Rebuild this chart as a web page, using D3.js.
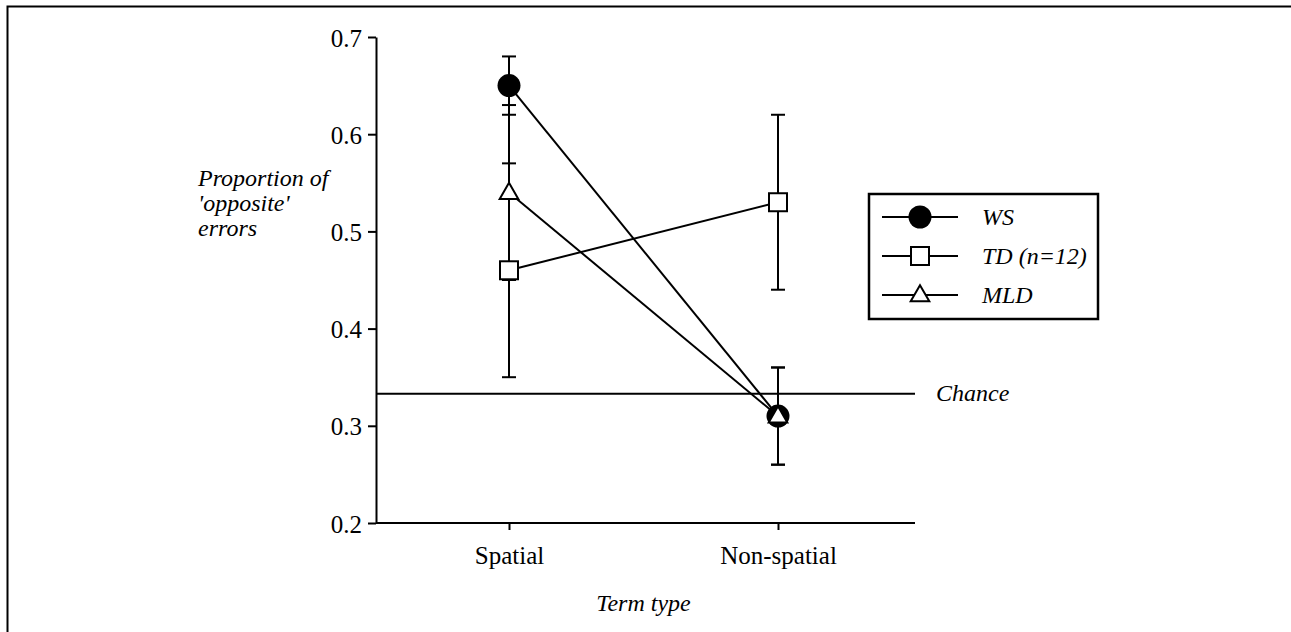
<!DOCTYPE html>
<html>
<head>
<meta charset="utf-8">
<script src="https://cdn.jsdelivr.net/npm/d3@7"></script>
<style>
  body { margin: 0; background: #fff; }
  svg text { font-family: "Liberation Serif", "DejaVu Serif", serif !important; fill: #000; }
</style>
</head>
<body>
<div id="chart"></div>
<script>
var svgWidth = 1291;
var svgHeight = 632;
var serif = '"Liberation Serif", "DejaVu Serif", serif';

// data
var termTypes = ['Spatial', 'Non-spatial'];
var groups = ['WS', 'TD (n=12)', 'MLD'];
var groupShapes = ['circle', 'square', 'triangle'];
var wsMeans = [0.65, 0.31];
var wsErrors = [0.03, 0.05];
var tdMeans = [0.46, 0.53];
var tdErrors = [0.11, 0.09];
var mldMeans = [0.54, 0.31];
var mldErrors = [0.09, 0.05];
var yTicks = [0.2, 0.3, 0.4, 0.5, 0.6, 0.7];
var chanceLevel = 0.333;

var series = [
    {name: groups[0], shape: groupShapes[0], means: wsMeans, errors: wsErrors},
    {name: groups[1], shape: groupShapes[1], means: tdMeans, errors: tdErrors},
    {name: groups[2], shape: groupShapes[2], means: mldMeans, errors: mldErrors}
];

var svg = d3.select('#chart')
    .append('svg')
    .attr('width', svgWidth)
    .attr('height', svgHeight)
    .attr('font-family', serif);

// outer frame (runs off the right and bottom)
svg.append('rect')
    .attr('x', 7.5)
    .attr('y', 6.5)
    .attr('width', svgWidth)
    .attr('height', svgHeight)
    .attr('fill', 'none')
    .attr('stroke', '#000')
    .attr('stroke-width', 2);

var plot = {left: 376, right: 915, top: 37, bottom: 523};

var yScale = d3.scaleLinear()
    .domain([0.2, 0.7])
    .range([plot.bottom, plot.top]);

var xScale = d3.scalePoint()
    .domain(termTypes)
    .range([509, 778]);

var lineWidth = 2;
var labelSize = '25px';
var italicSize = '24px';

// axes
var leftAxis = d3.axisLeft(yScale)
    .tickValues(yTicks)
    .tickFormat(d3.format('.1f'))
    .tickSize(8)
    .tickPadding(6)
    .tickSizeOuter(0);

var yAxisG = svg.append('g')
    .attr('transform', `translate(${plot.left},0)`)
    .call(leftAxis)
    .attr('font-family', serif);
yAxisG.select('.domain').attr('stroke-width', lineWidth);
yAxisG.selectAll('line').attr('stroke-width', lineWidth);
yAxisG.selectAll('text')
    .style('font-size', labelSize)
    .attr('dy', '0.36em');

var bottomAxis = d3.axisBottom(xScale)
    .tickSize(7)
    .tickPadding(16)
    .tickSizeOuter(0);

var xAxisG = svg.append('g')
    .attr('transform', `translate(0,${plot.bottom})`)
    .call(bottomAxis)
    .attr('font-family', serif);
xAxisG.select('.domain')
    .attr('d', `M${plot.left},0H${plot.right}`)
    .attr('stroke-width', lineWidth);
xAxisG.selectAll('line').attr('stroke-width', lineWidth);
xAxisG.selectAll('text').style('font-size', labelSize);

// chance line
svg.append('line')
    .attr('x1', plot.left)
    .attr('x2', plot.right)
    .attr('y1', yScale(chanceLevel))
    .attr('y2', yScale(chanceLevel))
    .attr('stroke', '#000')
    .attr('stroke-width', lineWidth);

svg.append('text')
    .attr('x', 936)
    .attr('y', yScale(chanceLevel) + 7)
    .style('font-size', italicSize)
    .style('font-style', 'italic')
    .text('Chance');

// axis titles
svg.append('text')
    .attr('x', 198)
    .style('font-size', italicSize)
    .style('font-style', 'italic')
    .selectAll('tspan')
    .data(['Proportion of', "'opposite'", 'errors'])
    .enter()
    .append('tspan')
    .attr('x', 198)
    .attr('y', (d, i) => 186 + i * 25)
    .text(d => d);

svg.append('text')
    .attr('x', (xScale('Spatial') + xScale('Non-spatial')) / 2)
    .attr('y', 611)
    .attr('text-anchor', 'middle')
    .style('font-size', italicSize)
    .style('font-style', 'italic')
    .text('Term type');

// marker drawing
function drawMarker(g, shape, x, y) {
    if (shape === 'circle') {
        g.append('circle')
            .attr('cx', x).attr('cy', y).attr('r', 11.5)
            .attr('fill', '#000');
    } else if (shape === 'square') {
        g.append('rect')
            .attr('x', x - 9).attr('y', y - 9)
            .attr('width', 18).attr('height', 18)
            .attr('fill', '#fff').attr('stroke', '#000').attr('stroke-width', lineWidth);
    } else {
        var tri = d3.symbol().type(d3.symbolTriangle).size(150);
        g.append('path')
            .attr('d', tri())
            .attr('transform', `translate(${x},${y + 1})`)
            .attr('fill', '#fff').attr('stroke', '#000').attr('stroke-width', lineWidth);
    }
}

// error bars first
var errG = svg.append('g');
series.forEach(function(s) {
    termTypes.forEach(function(t, i) {
        var x = xScale(t);
        var lo = yScale(s.means[i] - s.errors[i]);
        var hi = yScale(s.means[i] + s.errors[i]);
        errG.append('line')
            .attr('x1', x).attr('x2', x).attr('y1', lo).attr('y2', hi)
            .attr('stroke', '#000').attr('stroke-width', lineWidth);
        [lo, hi].forEach(function(yy) {
            errG.append('line')
                .attr('x1', x - 7).attr('x2', x + 7).attr('y1', yy).attr('y2', yy)
                .attr('stroke', '#000').attr('stroke-width', lineWidth);
        });
    });
});

// connecting lines
var line = d3.line()
    .x((d, i) => xScale(termTypes[i]))
    .y(d => yScale(d));

svg.selectAll('.series-line')
    .data(series)
    .enter()
    .append('path')
    .attr('class', 'series-line')
    .attr('d', d => line(d.means))
    .attr('fill', 'none')
    .attr('stroke', '#000')
    .attr('stroke-width', lineWidth);

// markers
var markG = svg.append('g');
series.forEach(function(s) {
    termTypes.forEach(function(t, i) {
        drawMarker(markG, s.shape, xScale(t), yScale(s.means[i]));
    });
});

// legend
var legend = {x: 869, y: 194, w: 229, h: 125, row0: 217, rowStep: 39};
var legG = svg.append('g');
legG.append('rect')
    .attr('x', legend.x).attr('y', legend.y)
    .attr('width', legend.w).attr('height', legend.h)
    .attr('fill', '#fff').attr('stroke', '#000').attr('stroke-width', 2.5);

series.forEach(function(s, i) {
    var yy = legend.row0 + i * legend.rowStep;
    legG.append('line')
        .attr('x1', 882).attr('x2', 958).attr('y1', yy).attr('y2', yy)
        .attr('stroke', '#000').attr('stroke-width', lineWidth);
    drawMarker(legG, s.shape, 920, yy);
    legG.append('text')
        .attr('x', 982)
        .attr('y', yy + 8)
        .style('font-size', italicSize)
        .style('font-style', 'italic')
        .text(s.name);
});
</script>
</body>
</html>
